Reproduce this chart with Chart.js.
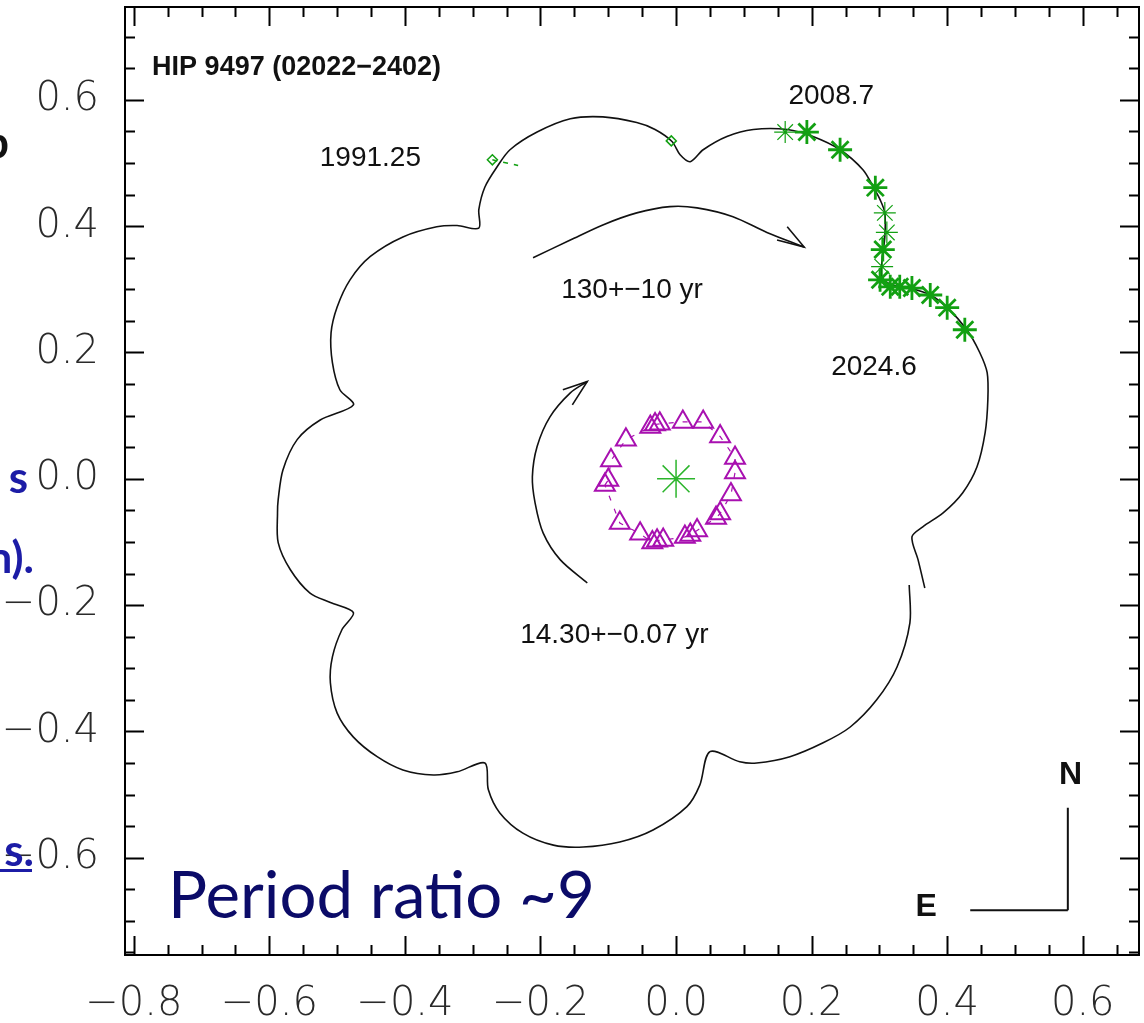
<!DOCTYPE html>
<html lang="en">
<head>
<meta charset="UTF-8">
<title>HIP 9497 (02022-2402) orbit</title>
<script src="https://cdn.jsdelivr.net/npm/chart.js"></script>
<style>
  body { margin: 0; background: #fff; }
  #wrap { position: relative; width: 1144px; height: 1023px; }
  canvas { display: block; }
</style>
</head>
<body>
<div id="wrap"><canvas id="orbitChart" width="1144" height="1023"></canvas></div>
<script>
// outer photocentre path (130 yr orbit + 14.3 yr wobble), [x, y] arcsec
const outerPath = [
  [0.367,-0.173],[0.357,-0.128],[0.348,-0.092],[0.364,-0.076],[0.394,-0.054],[0.423,-0.022],
  [0.444,0.019],[0.456,0.073],[0.460,0.125],[0.459,0.168],[0.448,0.200],[0.429,0.236],
  [0.400,0.271],[0.375,0.291],[0.345,0.302],[0.320,0.307],[0.304,0.318],[0.304,0.347],
  [0.308,0.383],[0.308,0.421],[0.301,0.442],[0.291,0.462],[0.276,0.489],[0.242,0.521],
  [0.202,0.542],[0.164,0.553],[0.114,0.553],[0.075,0.542],[0.040,0.521],[0.021,0.502],
  [0.006,0.513],[-0.006,0.534],[-0.031,0.553],[-0.058,0.564],[-0.108,0.573],[-0.156,0.570],
  [-0.205,0.549],[-0.245,0.521],[-0.264,0.494],[-0.282,0.462],[-0.291,0.426],[-0.291,0.397],
  [-0.323,0.401],[-0.353,0.399],[-0.403,0.383],[-0.451,0.352],[-0.481,0.315],[-0.500,0.272],
  [-0.509,0.231],[-0.507,0.184],[-0.496,0.141],[-0.476,0.117],[-0.525,0.093],[-0.559,0.062],
  [-0.580,0.014],[-0.587,-0.033],[-0.588,-0.054],[-0.587,-0.101],[-0.569,-0.144],[-0.540,-0.181],
  [-0.510,-0.196],[-0.476,-0.212],[-0.493,-0.239],[-0.507,-0.282],[-0.510,-0.323],[-0.500,-0.371],
  [-0.476,-0.409],[-0.441,-0.440],[-0.403,-0.461],[-0.358,-0.469],[-0.323,-0.464],[-0.282,-0.450],
  [-0.277,-0.492],[-0.260,-0.529],[-0.226,-0.561],[-0.181,-0.580],[-0.137,-0.583],[-0.083,-0.575],
  [-0.034,-0.556],[0.016,-0.519],[0.035,-0.485],[0.050,-0.432],[0.094,-0.448],[0.119,-0.450],
  [0.168,-0.440],[0.217,-0.418],[0.257,-0.393],[0.296,-0.350],[0.326,-0.298],[0.345,-0.228],
  [0.344,-0.168]
];

// speckle measurements of the wide pair (green asterisks)
const speckleBold = [
  [0.193,0.549],[0.242,0.521],[0.294,0.461],[0.305,0.363],[0.301,0.315],[0.316,0.304],
  [0.330,0.304],[0.348,0.302],[0.375,0.291],[0.400,0.271],[0.426,0.236]
];
const speckleThin = [[0.161,0.549],[0.308,0.421],[0.311,0.390],[0.304,0.336]];

// Hipparcos (1991.25) and early points, green diamonds
const hipPoints = [[-0.271,0.505],[-0.007,0.535]];
const hipResidual = [[-0.271,0.505],[-0.233,0.496]];

// inner 14.3 yr orbit measurements (magenta triangles)
const innerPoints = [
  [-0.105,-0.010],[-0.100,-0.002],[-0.096,0.029],[-0.074,0.062],[-0.038,0.082],[-0.031,0.086],
  [-0.024,0.087],[0.010,0.090],[0.040,0.090],[0.065,0.067],[0.087,0.033],[0.087,0.010],
  [0.081,-0.025],[0.065,-0.055],[0.059,-0.062],[0.031,-0.082],[0.021,-0.089],[0.013,-0.092],
  [-0.019,-0.097],[-0.028,-0.098],[-0.035,-0.101],[-0.053,-0.087],[-0.083,-0.070]
];

// direction-of-motion arrows
const outerArrow = [[-0.211,0.350],[-0.156,0.378],[-0.108,0.402],[-0.058,0.421],[-0.009,0.431],
  [0.031,0.429],[0.084,0.415],[0.134,0.390],[0.189,0.367]];
const outerHead = [[0.149,0.378],[0.189,0.367],[0.164,0.399]];
const innerArrow = [[-0.131,-0.165],[-0.171,-0.128],[-0.196,-0.086],[-0.208,-0.038],[-0.212,0.003],
  [-0.205,0.051],[-0.186,0.098],[-0.156,0.136],[-0.131,0.154]];
const innerHead = [[-0.167,0.141],[-0.131,0.154],[-0.153,0.117]];

// N / E orientation marker
const compassN = [[0.578,-0.521],[0.578,-0.683]];
const compassE = [[0.434,-0.683],[0.578,-0.683]];

const xTicks = [-0.8, -0.6, -0.4, -0.2, 0.0, 0.2, 0.4, 0.6];
const yTicks = [-0.6, -0.4, -0.2, 0.0, 0.2, 0.4, 0.6];

const notes = [
  { text: 'HIP 9497 (02022\u22122402)', x: -0.773, y: 0.651, bold: true, size: 27, align: 'left' },
  { text: '1991.25', x: -0.451, y: 0.508 },
  { text: '2008.7', x: 0.229, y: 0.605 },
  { text: '2024.6', x: 0.292, y: 0.176 },
  { text: '130+\u221210 yr', x: -0.065, y: 0.299 },
  { text: '14.30+\u22120.07 yr', x: -0.091, y: -0.247 },
  { text: 'N', x: 0.582, y: -0.470, bold: true, size: 32 },
  { text: 'E', x: 0.369, y: -0.678, bold: true, size: 32 }
];

const GREEN = '#12a012';
const MAGENTA = '#a810b0';

const toXY = arr => arr.map(([x, y]) => ({ x, y }));
const fmt = v => (v < -1e-9 ? '\u2212' : '') + Math.abs(v).toFixed(1);

function lineSet(data, color, width, extra) {
  return Object.assign({
    data: toXY(data), showLine: true, borderColor: color, borderWidth: width,
    pointRadius: 0, tension: 0, fill: false, order: 5
  }, extra || {});
}

// inward ticks on all four sides + frame
const frameTicks = {
  id: 'frameTicks',
  afterDatasetsDraw(chart) {
    const { ctx, chartArea: a, scales: { x, y } } = chart;
    ctx.save();
    ctx.strokeStyle = '#000';
    ctx.lineWidth = 2;
    ctx.strokeRect(a.left, a.top, a.right - a.left, a.bottom - a.top);
    ctx.beginPath();
    for (let i = -16; i <= 13; i++) {
      const px = Math.round(x.getPixelForValue(i * 0.05)) + 0.5;
      const len = i % 4 === 0 ? 19 : 10;
      ctx.moveTo(px, a.bottom); ctx.lineTo(px, a.bottom - len);
      ctx.moveTo(px, a.top); ctx.lineTo(px, a.top + len);
    }
    for (let i = -15; i <= 14; i++) {
      const py = Math.round(y.getPixelForValue(i * 0.05)) + 0.5;
      const len = i % 4 === 0 ? 19 : 10;
      ctx.moveTo(a.left, py); ctx.lineTo(a.left + len, py);
      ctx.moveTo(a.right, py); ctx.lineTo(a.right - len, py);
    }
    ctx.stroke();

    // text annotations inside the plot
    ctx.fillStyle = '#111';
    ctx.textBaseline = 'middle';
    notes.forEach(n => {
      ctx.font = (n.bold ? 'bold ' : '') + (n.size || 28) + 'px "Liberation Sans", Arial, sans-serif';
      ctx.textAlign = n.align || 'center';
      ctx.fillText(n.text, x.getPixelForValue(n.x), y.getPixelForValue(n.y));
    });
    ctx.restore();
  },
  afterDraw(chart) {
    // slide text that overlaps the figure
    const ctx = chart.ctx;
    ctx.save();
    ctx.fillStyle = '#0b0b68';
    ctx.textAlign = 'left';
    ctx.textBaseline = 'alphabetic';
    let size = 60;
    ctx.font = size + 'px Lato, "Open Sans", sans-serif';
    size = size * 427 / ctx.measureText('Period ratio ~9').width;
    ctx.font = size + 'px Lato, "Open Sans", sans-serif';
    ctx.fillText('Period ratio ~9', 168, 918);

    ctx.fillStyle = '#1c1ca6';
    ctx.textAlign = 'right';
    ctx.font = 'bold 44px Lato, "Open Sans", sans-serif';
    ctx.fillText('s', 28, 493);
    ctx.fillText('n).', 34, 573);
    ctx.fillText('s.', 34, 866);
    ctx.fillRect(0, 869, 32, 3);
    ctx.fillStyle = '#111';
    ctx.fillText('b', 9, 158);
    ctx.restore();
  }
};

const ctx = document.getElementById('orbitChart').getContext('2d');

new Chart(ctx, {
  type: 'scatter',
  data: {
    datasets: [
      lineSet(outerPath, '#111', 1.6, { tension: 0.3 }),
      lineSet(outerArrow, '#111', 1.6, { tension: 0.3 }),
      lineSet(outerHead, '#111', 1.6),
      lineSet(innerArrow, '#111', 1.6, { tension: 0.3 }),
      lineSet(innerHead, '#111', 1.6),
      lineSet(innerPoints.concat([innerPoints[0]]), MAGENTA, 1.2, { borderDash: [5, 9] }),
      lineSet(hipResidual, GREEN, 1.5, { borderDash: [5, 6] }),
      lineSet(compassN, '#111', 2),
      lineSet(compassE, '#111', 2),
      {
        data: toXY(innerPoints), pointStyle: 'triangle', pointRadius: 11.5,
        borderColor: MAGENTA, backgroundColor: 'rgba(0,0,0,0)', pointBorderWidth: 2, order: 1
      },
      {
        data: toXY(speckleThin), pointStyle: 'star', pointRadius: 11,
        borderColor: GREEN, pointBorderWidth: 1.2, order: 1
      },
      {
        data: toXY(speckleBold), pointStyle: 'star', pointRadius: 12,
        borderColor: GREEN, pointBorderWidth: 2.8, order: 0
      },
      {
        data: toXY(hipPoints), pointStyle: 'rectRot', pointRadius: 5,
        borderColor: GREEN, backgroundColor: 'rgba(0,0,0,0)', pointBorderWidth: 1.5, order: 1
      },
      {
        data: [{ x: 0, y: 0 }], pointStyle: 'star', pointRadius: 19,
        borderColor: '#2cb52c', pointBorderWidth: 1.5, order: 1
      }
    ]
  },
  options: {
    responsive: false,
    animation: false,
    devicePixelRatio: 1,
    events: [],
    layout: { autoPadding: false, padding: { top: 7, right: 5, left: 0, bottom: 0 } },
    plugins: { legend: { display: false }, tooltip: { enabled: false } },
    scales: {
      x: {
        type: 'linear', position: 'bottom', min: -0.813, max: 0.683,
        afterFit: s => { s.height = 68; s.paddingLeft = 0; s.paddingRight = 0; },
        afterBuildTicks: s => { s.ticks = xTicks.map(v => ({ value: v })); },
        grid: { display: false }, border: { display: false },
        ticks: {
          callback: fmt, padding: 18, maxRotation: 0, autoSkip: false,
          color: '#2a2a2a', font: { family: '"DejaVu Sans"', size: 40, weight: 200 }
        }
      },
      y: {
        type: 'linear', position: 'left', min: -0.754, max: 0.747,
        afterFit: s => { s.width = 125; s.paddingTop = 0; s.paddingBottom = 0; },
        afterBuildTicks: s => { s.ticks = yTicks.map(v => ({ value: v })); },
        grid: { display: false }, border: { display: false },
        ticks: {
          callback: fmt, padding: 18, autoSkip: false,
          color: '#2a2a2a', font: { family: '"DejaVu Sans"', size: 40, weight: 200 }
        }
      }
    }
  },
  plugins: [frameTicks]
});
</script>
</body>
</html>
